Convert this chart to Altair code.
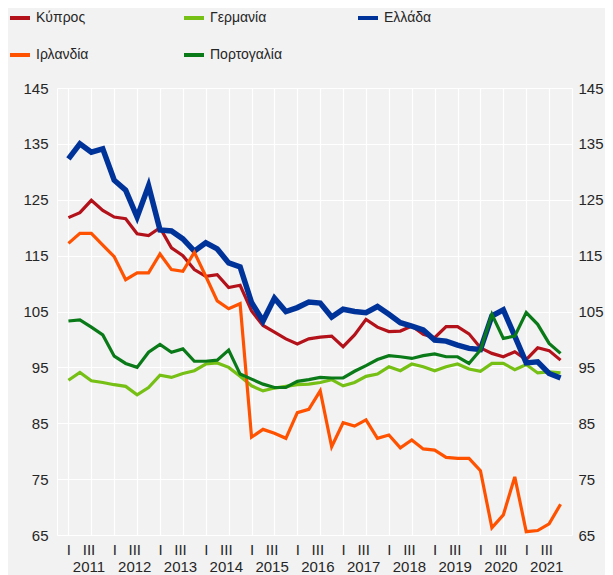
import altair as alt
import pandas as pd

series_names = ["Κύπρος", "Γερμανία", "Ελλάδα", "Ιρλανδία", "Πορτογαλία"]
series_colors = ["#b3121b", "#76bf14", "#003399", "#ff5200", "#0a7a19"]
series_widths = [3.2, 3.2, 5.5, 3.2, 3.2]

first_year = 2011
years = list(range(2011, 2022))
quarter_index = list(range(44))  # 2011 Q1 ... 2021 Q4

cyprus = [121.8, 122.7, 124.9, 123.1, 121.9, 121.6, 118.9, 118.6, 120.0, 116.4,
          115.0, 112.5, 111.3, 111.6, 109.3, 109.7, 105.1, 102.5, 101.3, 100.1,
          99.2, 100.1, 100.4, 100.6, 98.7, 100.8, 103.6, 102.2, 101.4, 101.5,
          102.4, 100.9, 100.3, 102.3, 102.3, 101.0, 98.5, 97.5, 96.9, 97.8,
          96.4, 98.5, 98.0, 96.3]
germany = [92.7, 94.1, 92.6, 92.3, 91.9, 91.6, 90.1, 91.4, 93.6, 93.2,
           93.9, 94.4, 95.6, 95.8, 95.0, 93.4, 91.7, 90.8, 91.3, 91.6,
           91.9, 92.0, 92.3, 92.8, 91.7, 92.3, 93.4, 93.8, 95.1, 94.4,
           95.6, 95.1, 94.4, 95.1, 95.6, 94.7, 94.3, 95.7, 95.7, 94.6,
           95.5, 94.0, 94.2, 94.0]
greece = [132.3, 135.0, 133.5, 134.1, 128.5, 126.7, 121.9, 127.5, 119.6, 119.4,
          118.0, 115.8, 117.3, 116.2, 113.7, 113.0, 106.6, 103.3, 107.4, 105.0,
          105.7, 106.7, 106.5, 104.0, 105.4, 105.0, 104.8, 105.9, 104.5, 103.0,
          102.4, 101.7, 99.9, 99.7, 99.0, 98.4, 98.2, 104.2, 105.3, 100.6,
          95.8, 96.0, 93.9, 93.1]
ireland = [117.2, 119.0, 119.0, 116.9, 114.8, 110.7, 111.9, 111.9, 115.3, 112.5,
           112.2, 115.6, 111.3, 106.9, 105.5, 106.4, 82.5, 83.9, 83.2, 82.3,
           86.9, 87.5, 90.8, 80.8, 85.1, 84.5, 85.6, 82.3, 82.9, 80.6,
           82.0, 80.4, 80.2, 78.9, 78.7, 78.7, 76.5, 66.3, 68.6, 75.4,
           65.6, 65.8, 67.0, 70.5]
portugal = [103.3, 103.5, 102.2, 100.8, 97.0, 95.7, 95.0, 97.7, 99.1, 97.7,
            98.3, 96.1, 96.1, 96.3, 98.1, 93.8, 92.9, 92.0, 91.4, 91.4,
            92.5, 92.8, 93.2, 93.1, 93.1, 94.3, 95.3, 96.4, 97.1, 96.9,
            96.6, 97.1, 97.4, 96.9, 96.9, 95.7, 98.1, 104.5, 100.2, 100.6,
            104.8, 102.7, 99.3, 97.5]

y_ticks = [65, 75, 85, 95, 105, 115, 125, 135, 145]
grid_x = list(range(0, 45, 2))
label_x = []
for k, _ in enumerate(years):
    label_x += [4 * k, 4 * k + 1.75]

rows = []
for name, w, vals in zip(series_names, series_widths,
                         [cyprus, germany, greece, ireland, portugal]):
    for i, v in zip(quarter_index, vals):
        rows.append({"series": name, "q": i, "value": v, "w": w})
df = pd.DataFrame(rows)

FONT = "Liberation Sans"
x_scale = alt.Scale(domain=[-1, 44], nice=False, zero=False)
y_scale = alt.Scale(domain=[65, 145], nice=False, zero=False)

base = alt.Chart(df)

lines = base.mark_line().encode(
    x=alt.X("q:Q", scale=x_scale,
            axis=alt.Axis(values=grid_x, grid=True, gridColor="white", gridWidth=1.2,
                          labels=False, ticks=False, domain=False, title=None)),
    y=alt.Y("value:Q", scale=y_scale,
            axis=alt.Axis(orient="left", values=y_ticks, grid=True, gridColor="white",
                          gridWidth=1.2, ticks=False, domain=True, domainColor="white",
                          labelPadding=9, title=None)),
    color=alt.Color("series:N", sort=series_names,
                    scale=alt.Scale(domain=series_names, range=series_colors),
                    legend=alt.Legend(orient="none", legendX=-49, legendY=-82,
                                      direction="horizontal", columns=3, gridAlign="all",
                                      columnPadding=67, rowPadding=17, title=None,
                                      symbolType="stroke", symbolSize=400,
                                      symbolStrokeWidth=4, labelFontSize=14,
                                      labelFont=FONT, labelColor="#262626",
                                      labelOffset=4)),
    strokeWidth=alt.StrokeWidth("w:Q", scale=None),
    detail="series:N",
)

label_expr = ("datum.value % 4 == 0 ? 'I' : ['III', '' + (" + str(first_year)
              + " + floor(datum.value / 4))]")

labels_layer = base.mark_line(opacity=0).encode(
    x=alt.X("q:Q", scale=x_scale,
            axis=alt.Axis(orient="bottom", values=label_x, labelExpr=label_expr,
                          grid=False, ticks=False, domain=False, title=None,
                          labelOverlap=False, labelFlush=False, labelPadding=7,
                          labelLineHeight=17, labelBaseline="top")),
    y=alt.Y("value:Q", scale=y_scale,
            axis=alt.Axis(orient="right", values=y_ticks, grid=False, ticks=False,
                          domain=False, labelPadding=6, title=None)),
    detail="series:N",
)

chart = (
    alt.layer(lines, labels_layer)
    .resolve_axis(x="independent", y="independent")
    .properties(width=515, height=447,
                padding={"left": 49, "top": 80, "right": 33, "bottom": 40},
                autosize=alt.AutoSizeParams(type="none"),
                background="#f2f2f2")
    .configure_view(stroke=None)
    .configure_axis(labelFont=FONT, labelFontSize=15, labelColor="#262626")
)

chart.save("out.html", embed_options={"renderer": "svg", "actions": False})
